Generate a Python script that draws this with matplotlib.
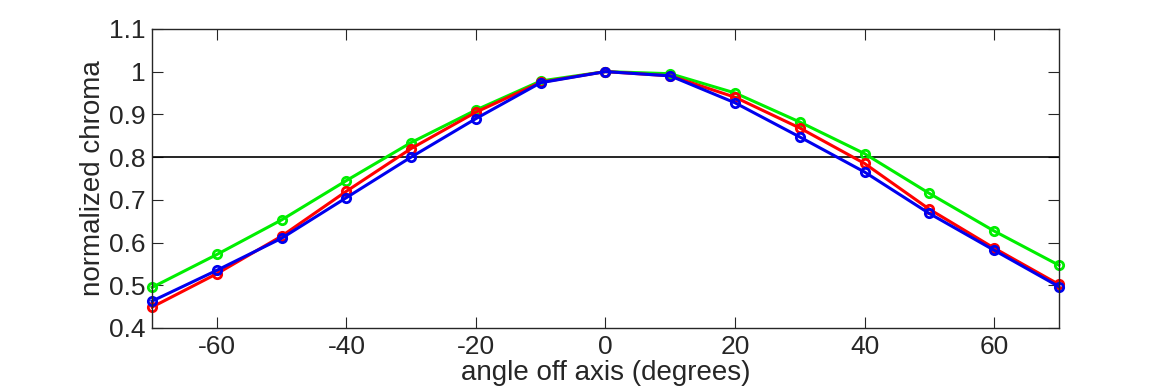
import matplotlib
matplotlib.use("Agg")
import matplotlib.pyplot as plt

# data
angles = [-70, -60, -50, -40, -30, -20, -10, 0, 10, 20, 30, 40, 50, 60, 70]
green = [0.495, 0.572, 0.653, 0.745, 0.834, 0.910, 0.978, 1.0, 0.995, 0.950, 0.882, 0.808, 0.715, 0.627, 0.547]
red = [0.449, 0.527, 0.615, 0.720, 0.820, 0.905, 0.975, 1.0, 0.990, 0.940, 0.868, 0.785, 0.678, 0.587, 0.502]
blue = [0.463, 0.535, 0.610, 0.705, 0.800, 0.890, 0.974, 1.0, 0.990, 0.927, 0.847, 0.765, 0.668, 0.582, 0.497]
threshold = 0.8

plt.rcParams['font.family'] = ['Liberation Sans', 'DejaVu Sans']
plt.rcParams['axes.unicode_minus'] = False

fig = plt.figure(figsize=(11.7, 3.9), dpi=100)
ax = fig.add_axes([0.130, 0.159, 0.775, 0.767])

ax.axhline(threshold, color='black', lw=1.2)
for vals, col in [(green, '#00ee00'), (red, '#ff0000'), (blue, '#0000ee')]:
    ax.plot(angles, vals, color=col, lw=2.2, marker='o', ms=6,
            mfc='none', mec=col, mew=2, clip_on=False)

ax.set_xlim(-70, 70)
ax.set_ylim(0.4, 1.1)
ax.set_xticks([-60, -40, -20, 0, 20, 40, 60])
ax.set_yticks([0.4, 0.5, 0.6, 0.7, 0.8, 0.9, 1.0, 1.1])
ax.set_yticklabels(['0.4', '0.5', '0.6', '0.7', '0.8', '0.9', '1', '1.1'])
ax.tick_params(direction='in', length=8, top=True, right=True,
               labelsize=19, colors='#262626', pad=5)
for s in ax.spines.values():
    s.set_color('#262626')
    s.set_linewidth(1)

ax.set_xlabel('angle off axis (degrees)', fontsize=20, color='#262626', labelpad=1)
ax.set_ylabel('normalized chroma', fontsize=20, color='#262626', labelpad=2)

fig.savefig('out.png', dpi=100)
